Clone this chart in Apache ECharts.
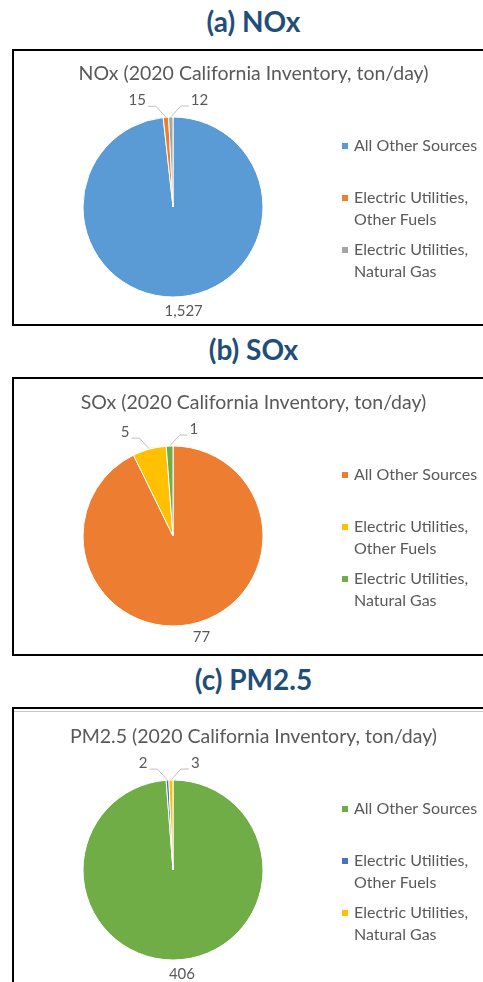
<!DOCTYPE html>
<html>
<head>
<meta charset="utf-8">
<script src="https://cdn.jsdelivr.net/npm/echarts@6/dist/echarts.min.js"></script>
<style>
  html, body { margin: 0; padding: 0; background: #fff; overflow: hidden; }
  body { width: 483px; height: 982px; position: relative; font-family: Lato, sans-serif; }
  .heading { position: absolute; left: 12px; width: 483px; height: 32px; line-height: 32px;
             text-align: center; font-weight: bold; font-size: 28px; color: #1F4E79; }
  .box { position: absolute; left: 12px; width: 483px; border: 2px solid #000; box-sizing: border-box; }
  .chart { position: absolute; left: 14px; width: 479px; height: 272px; }
  .inner-line { position: absolute; left: 14px; width: 479px; height: 1px; background: #C8C8C8; }
</style>
</head>
<body>
<div class="heading" style="top:5px">(a) NOx</div>
<div class="box" style="top:49px;height:277px"></div>
<div class="chart" id="chartNox" style="top:51px"></div>

<div class="heading" style="top:333px">(b) SOx</div>
<div class="box" style="top:377px;height:279px"></div>
<div class="chart" id="chartSox" style="top:380px"></div>

<div class="heading" style="top:663px">(c) PM2.5</div>
<div class="box" style="top:707px;height:300px"></div>
<div class="inner-line" style="top:711px"></div>
<div class="chart" id="chartPm" style="top:714px"></div>

<script>
// datos (ton/day)
var categories = ["All Other Sources", "Electric Utilities, Other Fuels", "Electric Utilities, Natural Gas"];
var noxValues = [1527, 15, 12];
var soxValues = [77, 5, 1];
var pmValues = [406, 2, 3];

var noxColors = ["#5B9BD5", "#ED7D31", "#A5A5A5"];
var soxColors = ["#ED7D31", "#FFC000", "#70AD47"];
var pmColors = ["#70AD47", "#4472C4", "#FFC000"];

var textColor = "#595959";
var fontName = "Lato";

// etiquetas pequeñas estilo Excel: linea inclinada + tramo horizontal
function placeLabel(params) {
  if (params.dataIndex === 0) {
    return { align: "center" };
  }
  var p0 = params.labelLinePoints[0];
  var side = params.dataIndex === 1 ? -1 : 1;
  var p1 = [p0[0] + side * 10, p0[1] - 11];
  var p2 = [p1[0] + side * 8, p1[1]];
  return {
    x: p2[0] + side * 2,
    y: p2[1] - 6,
    align: side < 0 ? "right" : "left",
    verticalAlign: "middle",
    labelLinePoints: [p0, p1, p2]
  };
}

function drawPie(id, title, values, colors) {
  var chart = echarts.init(document.getElementById(id));
  var data = categories.map(function (name, i) {
    var item = { name: name, value: values[i], itemStyle: { color: colors[i] } };
    if (i === 0) {
      item.labelLine = { show: false };
    }
    return item;
  });

  chart.setOption({
    animation: false,
    title: {
      text: title,
      left: "center",
      top: 11,
      padding: 0,
      textStyle: { color: textColor, fontSize: 19.5, fontWeight: "normal", fontFamily: fontName, lineHeight: 24 }
    },
    legend: {
      orient: "vertical",
      left: 326,
      top: 83,
      padding: 0,
      itemWidth: 8,
      itemHeight: 44,
      itemGap: 6,
      selectedMode: false,
      // cuadrado alineado con la primera linea del texto
      icon: "path://M0,7h8v8h-8z M8,44 M0,0",
      textStyle: { color: textColor, fontSize: 16, lineHeight: 22, fontFamily: fontName },
      formatter: function (name) {
        return name.indexOf(", ") > 0 ? name.replace(", ", ",\n") : name + "\n ";
      }
    },
    series: [
      {
        type: "pie",
        center: [159, 156],
        radius: 90,
        startAngle: 90,
        clockwise: true,
        avoidLabelOverlap: false,
        emphasis: { disabled: true },
        itemStyle: { borderColor: "#fff", borderWidth: 1 },
        label: {
          show: true,
          position: "outside",
          color: textColor,
          fontSize: 15,
          fontFamily: fontName,
          formatter: function (p) {
            return p.value.toLocaleString("en-US");
          }
        },
        labelLine: {
          show: true,
          length: 14,
          length2: 0,
          lineStyle: { color: "#BFBFBF", width: 1 }
        },
        labelLayout: placeLabel,
        data: data
      }
    ]
  });
}

drawPie("chartNox", "NOx (2020 California Inventory, ton/day)", noxValues, noxColors);
drawPie("chartSox", "SOx (2020 California Inventory, ton/day)", soxValues, soxColors);
drawPie("chartPm", "PM2.5 (2020 California Inventory, ton/day)", pmValues, pmColors);
</script>
</body>
</html>
